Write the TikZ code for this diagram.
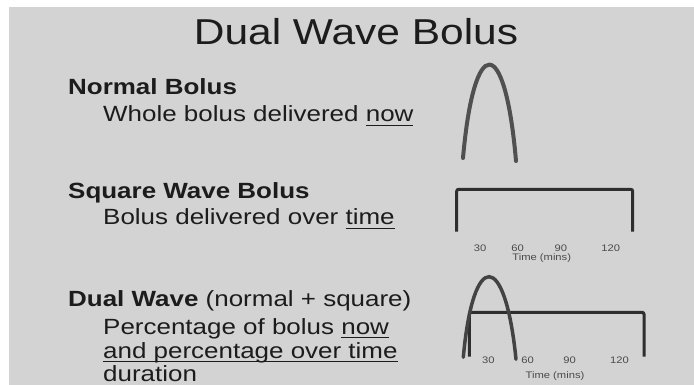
\documentclass[tikz,border=0pt]{standalone}
\usepackage{fontspec}
\setmainfont{Liberation Sans}[FakeStretch=1.18]
\usepackage{xcolor}
\definecolor{bggray}{HTML}{D3D3D3}
\definecolor{ink}{HTML}{1C1C1C}
\definecolor{archgray}{HTML}{505050}
\definecolor{wavegray}{HTML}{2E2E2E}
\definecolor{tickgray}{HTML}{4A4A4A}
\newcommand{\ulword}[1]{\setbox0=\hbox{#1}\rlap{\rule[-4pt]{\wd0}{1.4pt}}\box0}

\begin{document}
\begin{tikzpicture}[x=1pt, y=-1pt,
  title/.style={anchor=base, inner sep=0pt, text=ink, font=\fontsize{36}{40}\selectfont},
  head/.style={anchor=base west, inner sep=0pt, text=ink, font=\fontsize{22}{26}\selectfont},
  sub/.style={anchor=base west, inner sep=0pt, text=ink, font=\fontsize{22}{26}\selectfont},
  tick/.style={inner sep=0pt, text=tickgray, font=\fontsize{9.5}{10}\selectfont},
  arch/.style={draw=archgray, line width=4pt, line cap=round},
  wave/.style={draw=wavegray, line width=3pt, rounded corners=2pt}]
  \useasboundingbox (0,0) rectangle (694,385);
  \fill[bggray] (9,7) rectangle (694,385);
  \node[title] (ttl) at (356,45) {Dual Wave Bolus};
  % normal bolus
  \node[head] (nbh) at (68,95) {\textbf{Normal Bolus}};
  \node[sub] (nbs) at (103,122) {Whole bolus delivered \ulword{now}};
  \draw[arch] (463,158) .. controls (474,33) and (505,33) .. (516,161);
  % square wave bolus
  \node[head] (swh) at (68,199) {\textbf{Square Wave Bolus}};
  \node[sub] (sws) at (103,225) {Bolus delivered over \ulword{time}};
  \draw[wave] (456.7,231.7) |- (632.7,189.3) -- (632.7,231.7);
  \foreach \t/\x in {30/480, 60/517.5, 90/560.8, 120/610.8}
    \node[tick] (sq\t) at (\x,248.3) {\t};
  \node[tick] (sqtime) at (541.7,258) {Time (mins)};
  % dual wave bolus
  \node[head] (dwh) at (68,306) {\textbf{Dual Wave} (normal + square)};
  \node[sub] (dws1) at (103,334) {Percentage of bolus \ulword{now}};
  \node[sub] (dws2) at (103,358) {\ulword{and percentage over time}};
  \node[sub] (dws3) at (103,381) {duration};
  \draw[wave] (469.3,356.7) |- (644,312.3) -- (644,356.7);
  \draw[arch, draw=wavegray!90!white, line width=3.5pt] (463.3,357.3) .. controls (473,249.5) and (505,249.5) .. (516,359.3);
  \foreach \t/\x in {30/488.3, 60/527.5, 90/569.5, 120/619.5}
    \node[tick] (dw\t) at (\x,360.7) {\t};
  \node[tick] (dwtime) at (555,375.8) {Time (mins)};
\end{tikzpicture}
\end{document}
